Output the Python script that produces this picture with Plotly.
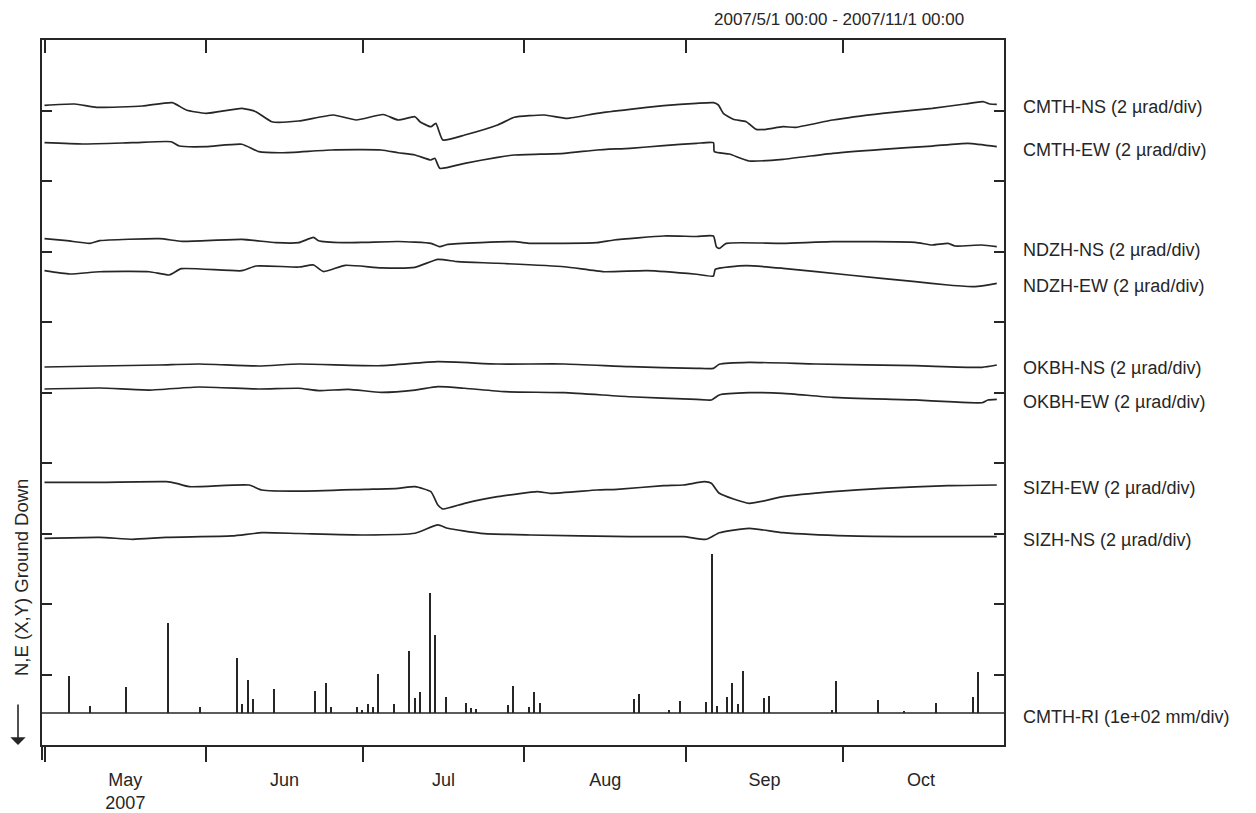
import pandas as pd
import plotly.graph_objects as go

# ---------------- data ----------------
# x values: days after 2007-05-01 00:00 ; y values: trace position in divisions
START = "2007-05-01"

cmth_ns_day = [0, 5.82, 10.01, 18.78, 24.50, 27.17, 30.98, 37.84, 40.52, 43.57, 48.71, 55.38, 59.77, 64.92, 67.78,
               71.02, 71.97, 74.07, 75.02, 76.36, 80.55, 86.85, 90.08, 95.81, 100.19, 105.91, 112.20, 118.69, 124.98,
               128.22, 129.17, 130.12, 132.03, 134.51, 136.42, 138.32, 141.56, 144.04, 151.10, 160.63, 170.16, 176.45,
               179.89, 181.22, 182.55]
cmth_ns_val = [9.074, 9.092, 9.045, 9.064, 9.111, 9.007, 8.960, 9.031, 8.983, 8.841, 8.851, 8.936, 8.865, 8.943, 8.865,
               8.912, 8.841, 8.770, 8.818, 8.582, 8.652, 8.794, 8.904, 8.936, 8.889, 8.960, 9.017, 9.068, 9.102,
               9.111, 9.078, 8.960, 8.875, 8.841, 8.733, 8.733, 8.770, 8.762, 8.865, 8.960, 9.031, 9.092,
               9.125, 9.092, 9.088]

cmth_ew_day = [0, 7.34, 16.87, 24.31, 25.83, 30.98, 37.84, 41.09, 45.48, 55.0, 64.53, 67.78, 71.02, 74.07, 74.83,
               75.78, 80.55, 86.85, 90.08, 99.62, 105.91, 112.20, 118.69, 124.98, 128.22, 128.41, 131.27, 135.08,
               141.56, 151.10, 160.63, 170.16, 177.03, 182.55]
cmth_ew_val = [8.543, 8.525, 8.543, 8.557, 8.496, 8.487, 8.521, 8.416, 8.401, 8.440, 8.440, 8.401, 8.369, 8.298, 8.322,
               8.180, 8.251, 8.336, 8.369, 8.393, 8.440, 8.464, 8.501, 8.535, 8.543, 8.416, 8.383, 8.284,
               8.308, 8.393, 8.450, 8.496, 8.535, 8.487]

ndzh_ns_day = [0, 4.29, 8.67, 10.58, 22.02, 26.41, 37.84, 44.33, 48.71, 51.57, 52.53, 57.29, 61.48, 67.78, 74.07,
               75.78, 77.31, 90.08, 93.14, 105.91, 109.15, 118.69, 124.98, 128.22, 128.79, 129.36, 130.70, 141.56,
               151.10, 166.92, 170.16, 173.21, 174.55, 179.70, 182.55]
ndzh_ns_val = [7.182, 7.153, 7.116, 7.153, 7.182, 7.145, 7.173, 7.125, 7.125, 7.201, 7.153, 7.125, 7.130, 7.142, 7.116,
               7.068, 7.102, 7.139, 7.116, 7.125, 7.163, 7.220, 7.213, 7.220, 7.068, 7.045, 7.116, 7.116,
               7.139, 7.130, 7.092, 7.116, 7.078, 7.092, 7.068]

ndzh_ew_day = [0, 4.86, 10.58, 20.11, 23.93, 26.22, 37.84, 40.52, 48.71, 51.57, 53.48, 57.67, 64.53, 71.02, 75.40,
               79.22, 86.85, 99.62, 107.25, 115.45, 124.98, 128.22, 128.60, 134.51, 141.56, 154.15, 166.92, 173.21,
               178.36, 182.55]
ndzh_ew_val = [6.728, 6.681, 6.713, 6.713, 6.667, 6.756, 6.728, 6.794, 6.780, 6.809, 6.716, 6.804, 6.769, 6.776, 6.889,
               6.855, 6.833, 6.784, 6.713, 6.728, 6.677, 6.652, 6.748, 6.799, 6.762, 6.667, 6.572, 6.525,
               6.501, 6.549]

okbh_ns_day = [0, 10.58, 22.02, 29.65, 41.09, 48.71, 64.53, 75.40, 86.85, 99.62, 112.20, 124.98, 128.22, 129.36,
               135.08, 147.86, 166.92, 179.70, 182.55]
okbh_ns_val = [5.362, 5.376, 5.390, 5.404, 5.376, 5.404, 5.380, 5.437, 5.404, 5.404, 5.366, 5.343, 5.343, 5.400,
               5.428, 5.404, 5.380, 5.357, 5.390]

okbh_ew_day = [0, 10.58, 20.11, 29.65, 41.09, 48.71, 52.53, 58.25, 64.53, 71.02, 75.40, 80.55, 88.18, 99.62, 112.20,
               124.98, 127.84, 129.36, 135.08, 141.56, 151.10, 166.92, 173.21, 179.70, 180.84, 182.55]
okbh_ew_val = [5.050, 5.064, 5.035, 5.078, 5.050, 5.060, 5.026, 5.045, 5.003, 5.035, 5.082, 5.060, 5.011, 4.997, 4.940,
               4.903, 4.894, 4.965, 4.997, 4.989, 4.932, 4.894, 4.870, 4.855, 4.894, 4.903]

sizh_ew_day = [0, 10.58, 23.36, 25.26, 27.74, 39.19, 41.66, 48.71, 61.48, 67.78, 71.02, 74.07, 75.40, 76.36, 80.55,
               86.85, 94.47, 96.95, 105.91, 109.73, 118.69, 122.50, 126.50, 127.84, 129.36, 135.08, 141.56, 151.10,
               160.63, 173.21, 182.55]
sizh_ew_val = [3.726, 3.726, 3.735, 3.712, 3.664, 3.688, 3.617, 3.600, 3.627, 3.641, 3.664, 3.593, 3.404, 3.348, 3.428,
               3.522, 3.593, 3.570, 3.617, 3.627, 3.678, 3.688, 3.735, 3.712, 3.570, 3.428, 3.522, 3.593,
               3.641, 3.678, 3.688]

sizh_ns_day = [0, 10.58, 16.87, 23.36, 35.94, 41.66, 48.71, 61.48, 71.02, 75.40, 77.31, 83.60, 93.14, 112.20, 122.50,
               126.88, 129.36, 135.08, 141.56, 154.15, 166.92, 182.55]
sizh_ns_val = [2.932, 2.946, 2.918, 2.946, 2.965, 3.011, 3.000, 2.979, 3.003, 3.121, 3.074, 3.003, 2.979, 2.955, 2.955,
               2.918, 3.011, 3.074, 3.011, 2.965, 2.955, 2.955]

# CMTH rainfall: event day (days after 2007-05-01) and amount in mm
rain_day = [4.67, 8.67, 15.73, 23.74, 29.84, 36.89, 37.85, 38.99, 39.94, 43.95, 51.95, 54.05, 55.00, 59.96, 60.91,
            62.06, 63.01, 63.96, 67.01, 69.87, 71.02, 71.97, 73.88, 74.83, 76.93, 80.93, 81.89, 82.84, 88.94, 89.89,
            92.95, 93.90, 95.04, 112.96, 113.92, 119.83, 121.93, 126.88, 128.02, 128.98, 130.89, 131.84, 132.98,
            133.94, 137.94, 138.89, 150.91, 151.86, 159.87, 164.82, 170.92, 177.97, 178.92]
rain_mm = [52, 10, 37, 128, 9, 78, 13, 47, 20, 34, 31, 43, 9, 9, 4, 13, 9, 55, 13, 88, 21, 30, 170, 111, 23, 14, 7, 6,
           11, 38, 9, 30, 14, 20, 27, 4, 17, 16, 225, 10, 23, 43, 13, 60, 21, 24, 4, 45, 18, 3, 14, 23, 58]

series_labels = ["CMTH-NS (2 µrad/div)", "CMTH-EW (2 µrad/div)", "NDZH-NS (2 µrad/div)", "NDZH-EW (2 µrad/div)",
                 "OKBH-NS (2 µrad/div)", "OKBH-EW (2 µrad/div)", "SIZH-EW (2 µrad/div)", "SIZH-NS (2 µrad/div)"]
rain_label = "CMTH-RI (1e+02 mm/div)"
period_text = "2007/5/1 00:00 - 2007/11/1 00:00"
y_title = "N,E (X,Y) Ground Down"
first_month_label = "May<br>2007"

# ---------------- styling / positions ----------------
# the page body adds an 8 px offset, so the figure is shifted by 8 px
W, H = 1248, 813
ML, MT, MR, MB = 34, 32, 252, 76
PW, PH = W - ML - MR, H - MT - MB

RAIN_BASE = 0.454          # division position of the rain zero line
MM_PER_DIV = 100.0
X_RANGE = ["2007-04-30 12:30", "2007-10-31 22:20"]
INK = "#262626"
FONT = "Liberation Sans, Arial, sans-serif"

start = pd.Timestamp(START)


def to_dates(days):
    return [start + pd.Timedelta(days=float(d)) for d in days]


series = [
    (cmth_ns_day, cmth_ns_val), (cmth_ew_day, cmth_ew_val),
    (ndzh_ns_day, ndzh_ns_val), (ndzh_ew_day, ndzh_ew_val),
    (okbh_ns_day, okbh_ns_val), (okbh_ew_day, okbh_ew_val),
    (sizh_ew_day, sizh_ew_val), (sizh_ns_day, sizh_ns_val),
]

fig = go.Figure()

annotations = []
for (days, vals), label in zip(series, series_labels):
    fig.add_trace(go.Scatter(x=to_dates(days), y=vals, mode="lines", name=label,
                             line=dict(color=INK, width=1.7, shape="spline", smoothing=0.5),
                             showlegend=False, hoverinfo="skip"))
    annotations.append(dict(xref="paper", yref="y", x=1, y=vals[-1], xanchor="left", yanchor="middle",
                            xshift=17, yshift=-3, text=label, showarrow=False,
                            font=dict(size=18, color=INK, family=FONT)))

# rainfall: zero line + bars
fig.add_trace(go.Scatter(x=[pd.Timestamp(X_RANGE[0]), pd.Timestamp(X_RANGE[1])], y=[RAIN_BASE, RAIN_BASE],
                         mode="lines", line=dict(color=INK, width=1.6), showlegend=False, hoverinfo="skip"))
fig.add_trace(go.Bar(x=to_dates(rain_day), y=[m / MM_PER_DIV for m in rain_mm], base=RAIN_BASE,
                     width=0.28 * 86400000, marker=dict(color=INK, line=dict(width=0)),
                     showlegend=False, hoverinfo="skip"))
annotations.append(dict(xref="paper", yref="y", x=1, y=RAIN_BASE, xanchor="left", yanchor="middle",
                        xshift=17, yshift=-4, text=rain_label, showarrow=False,
                        font=dict(size=18, color=INK, family=FONT)))

# dummy trace so the top (inner-tick) axis is drawn
fig.add_trace(go.Scatter(x=[pd.Timestamp(X_RANGE[0])], y=[None], xaxis="x2", mode="lines",
                         showlegend=False, hoverinfo="skip"))

annotations.append(dict(xref="paper", yref="paper", x=(958 - ML) / PW, y=1 + 20 / PH, xanchor="right",
                        yanchor="middle", text=period_text, showarrow=False,
                        font=dict(size=17, color=INK, family=FONT)))
annotations.append(dict(xref="paper", yref="paper", x=-21 / PW, y=167 / PH, xanchor="center",
                        yanchor="middle", text=y_title, textangle=-90, showarrow=False,
                        font=dict(size=18.5, color=INK, family=FONT)))
# downward arrow under the axis title
annotations.append(dict(xref="paper", yref="paper", x=-24 / PW, y=0.0, ax=0, ay=-42, text="",
                        showarrow=True, arrowhead=1, arrowsize=1.6, arrowwidth=1.6, arrowcolor=INK))

fig.update_layout(
    width=W, height=H,
    margin=dict(l=ML, r=MR, t=MT, b=MB, autoexpand=False),
    paper_bgcolor="white", plot_bgcolor="white",
    bargap=0,
    font=dict(family=FONT, color=INK, size=18),
    xaxis=dict(type="date", range=X_RANGE, tick0=START, dtick="M1", ticklabelmode="period",
               tickformat="%b", labelalias={"May": first_month_label}, automargin=False,
               ticks="outside", ticklen=15, tickwidth=2, tickcolor=INK, ticklabelstandoff=2,
               showline=True, linewidth=2, linecolor=INK, mirror=True,
               showgrid=False, zeroline=False, tickfont=dict(size=18, color=INK, family=FONT)),
    xaxis2=dict(type="date", overlaying="x", matches="x", side="top", tick0=START, dtick="M1",
                ticks="inside", ticklen=13, tickwidth=2, tickcolor=INK, showticklabels=False,
                showline=False, showgrid=False, zeroline=False, automargin=False),
    yaxis=dict(range=[0, 10], tick0=0, dtick=1, ticks="inside", ticklen=10, tickwidth=2, tickcolor=INK,
               showticklabels=False, showline=True, linewidth=2, linecolor=INK, mirror="ticks",
               showgrid=False, zeroline=False, automargin=False),
    annotations=annotations,
    shapes=[dict(type="line", xref="paper", yref="paper", x0=0, x1=0, y0=0, y1=-15 / PH,
                 line=dict(color=INK, width=2))],
)

fig.write_html("out.html")
